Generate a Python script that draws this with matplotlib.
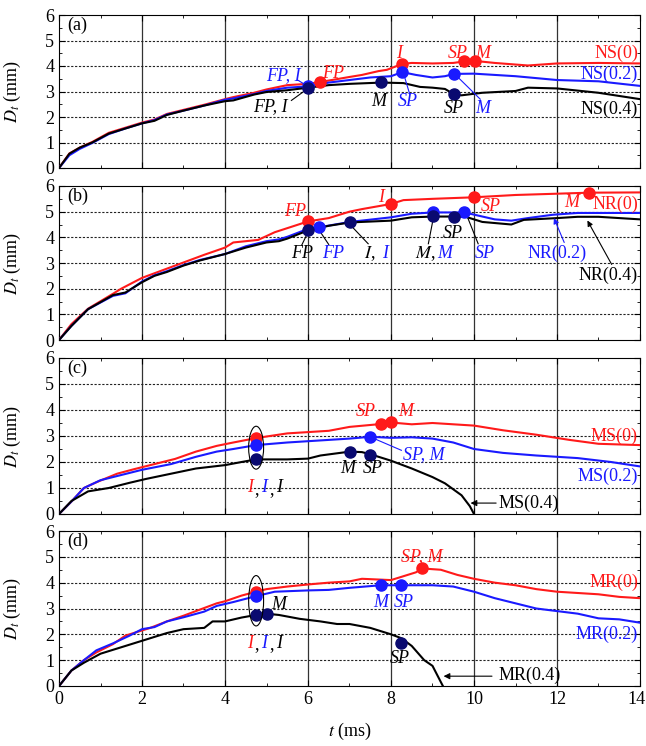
import matplotlib
matplotlib.use("Agg")
import matplotlib.pyplot as plt
from matplotlib.patches import Ellipse
from matplotlib.ticker import MultipleLocator
from matplotlib.transforms import offset_copy

plt.rcParams['font.family'] = ['Liberation Serif', 'DejaVu Serif']
plt.rcParams['mathtext.fontset'] = 'stix'

RED = '#ff1a1a'
BLUE = '#1a1aff'
BLK = '#000000'
NAVY = '#0a0a70'

# ---------------- data ----------------
# Panel (a) NS
ns0_t = [0, 0.25, 0.5, 0.8, 1.2, 1.6, 2.0, 2.3, 2.6, 3.0, 3.5, 4.0, 4.2, 4.7, 5.0, 5.5, 6.0, 6.28, 6.5, 7.0, 7.3, 7.7, 7.9, 8.27, 8.5, 9.0, 9.5, 9.77, 10.02, 10.5, 11.3, 12.0, 13.0, 14.0]
ns0_d = [0, 0.57, 0.8, 1.02, 1.38, 1.58, 1.78, 1.9, 2.12, 2.28, 2.48, 2.7, 2.78, 2.95, 3.08, 3.25, 3.3, 3.37, 3.43, 3.57, 3.65, 3.8, 3.85, 4.08, 4.12, 4.1, 4.12, 4.18, 4.2, 4.12, 4.02, 4.1, 4.12, 4.1]
ns2_t = [0, 0.25, 0.5, 0.8, 1.2, 1.6, 2.0, 2.3, 2.6, 3.0, 3.5, 4.0, 4.2, 4.7, 5.0, 5.5, 6.0, 6.5, 7.0, 7.5, 8.0, 8.27, 8.6, 9.0, 9.3, 9.52, 10.0, 11.0, 12.0, 13.0, 14.0]
ns2_d = [0, 0.5, 0.75, 0.98, 1.33, 1.55, 1.75, 1.88, 2.1, 2.25, 2.45, 2.68, 2.73, 2.9, 3.02, 3.15, 3.2, 3.35, 3.45, 3.55, 3.6, 3.76, 3.65, 3.55, 3.6, 3.69, 3.7, 3.6, 3.45, 3.4, 3.22]
ns4_t = [0, 0.25, 0.5, 0.8, 1.2, 1.6, 2.0, 2.3, 2.6, 3.0, 3.5, 4.0, 4.2, 4.7, 5.0, 5.5, 6.0, 6.5, 7.0, 7.77, 8.3, 8.7, 9.0, 9.3, 9.52, 9.7, 10.2, 11.0, 11.3, 12.0, 13.0, 14.0]
ns4_d = [0, 0.56, 0.8, 1.0, 1.35, 1.55, 1.75, 1.85, 2.08, 2.25, 2.45, 2.62, 2.65, 2.88, 2.98, 3.05, 3.15, 3.25, 3.3, 3.35, 3.33, 3.18, 3.15, 3.1, 2.89, 2.85, 2.95, 3.02, 3.15, 3.12, 2.95, 2.7]

# Panel (b) NR
nr0_t = [0, 0.3, 0.7, 1.3, 1.5, 2.0, 2.5, 3.0, 3.5, 4.0, 4.2, 4.8, 5.2, 6.0, 6.5, 7.0, 7.3, 8.0, 8.3, 9.0, 10.0, 11.0, 12.0, 12.78, 14.0]
nr0_d = [0, 0.62, 1.22, 1.8, 2.0, 2.42, 2.72, 3.02, 3.32, 3.6, 3.8, 3.9, 4.2, 4.62, 4.75, 5.0, 5.1, 5.3, 5.45, 5.5, 5.56, 5.65, 5.7, 5.74, 5.75]
nr2_t = [0, 0.3, 0.7, 1.3, 1.6, 2.0, 2.3, 2.6, 3.0, 3.4, 4.0, 4.5, 5.0, 5.3, 5.5, 6.0, 6.26, 7.01, 8.0, 8.5, 9.02, 9.77, 10.5, 10.9, 11.3, 11.9, 12.5, 14.0]
nr2_d = [0, 0.55, 1.2, 1.72, 1.82, 2.28, 2.52, 2.68, 2.92, 3.12, 3.35, 3.65, 3.85, 3.92, 4.02, 4.33, 4.39, 4.6, 4.78, 4.92, 4.97, 4.97, 4.7, 4.65, 4.75, 4.88, 4.95, 4.95]
nr4_t = [0, 0.3, 0.7, 1.3, 1.6, 2.0, 2.3, 2.6, 3.0, 3.4, 4.0, 4.5, 5.0, 5.3, 5.5, 6.0, 6.5, 7.01, 8.0, 8.5, 9.02, 9.52, 9.8, 10.2, 10.9, 11.2, 12.0, 12.5, 13.0, 14.0]
nr4_d = [0, 0.55, 1.2, 1.75, 1.85, 2.25, 2.5, 2.65, 2.9, 3.1, 3.35, 3.6, 3.8, 3.85, 3.95, 4.27, 4.45, 4.58, 4.65, 4.78, 4.81, 4.81, 4.8, 4.6, 4.5, 4.68, 4.75, 4.8, 4.8, 4.7]

# Panel (c) MS
ms0_t = [0, 0.3, 0.6, 0.9, 1.4, 1.8, 2.3, 2.8, 3.3, 3.8, 4.2, 4.75, 5.5, 6.0, 6.5, 7.0, 7.75, 8.0, 8.5, 9.0, 9.5, 10.0, 10.7, 11.5, 12.3, 13.0, 14.0]
ms0_d = [0, 0.48, 1.0, 1.22, 1.55, 1.72, 1.92, 2.12, 2.4, 2.62, 2.75, 2.92, 3.1, 3.15, 3.2, 3.35, 3.46, 3.52, 3.45, 3.5, 3.45, 3.4, 3.22, 3.05, 2.85, 2.7, 2.65]
ms2_t = [0, 0.3, 0.6, 1.0, 1.5, 2.0, 2.7, 3.3, 3.8, 4.2, 4.75, 5.5, 6.0, 6.5, 7.0, 7.5, 8.0, 8.5, 9.0, 9.5, 10.0, 10.7, 11.5, 12.5, 13.3, 14.0]
ms2_d = [0, 0.48, 1.0, 1.3, 1.5, 1.7, 1.92, 2.2, 2.4, 2.5, 2.65, 2.75, 2.8, 2.85, 2.9, 2.97, 2.93, 2.95, 2.9, 2.75, 2.5, 2.35, 2.25, 2.15, 2.0, 1.83]
ms4_t = [0, 0.3, 0.7, 1.2, 1.7, 2.1, 2.7, 3.3, 4.0, 4.4, 4.75, 5.5, 6.0, 6.3, 7.01, 7.3, 7.5, 8.0, 8.5, 9.0, 9.3, 9.7, 9.9, 10.0]
ms4_d = [0, 0.5, 0.87, 1.0, 1.2, 1.35, 1.55, 1.75, 1.88, 2.0, 2.1, 2.1, 2.13, 2.25, 2.4, 2.38, 2.3, 2.05, 1.75, 1.42, 1.18, 0.72, 0.3, 0]

# Panel (d) MR
mr0_t = [0, 0.3, 0.6, 0.9, 1.3, 1.6, 1.9, 2.2, 2.6, 3.0, 3.5, 3.8, 4.0, 4.4, 4.75, 5.0, 5.5, 6.0, 6.5, 7.0, 7.3, 8.0, 8.4, 8.6, 8.75, 9.2, 9.6, 10.0, 10.5, 11.0, 11.5, 12.0, 13.0, 13.5, 14.0]
mr0_d = [0, 0.6, 1.0, 1.3, 1.62, 1.95, 2.1, 2.25, 2.5, 2.72, 3.02, 3.2, 3.28, 3.5, 3.65, 3.75, 3.85, 3.93, 4.0, 4.05, 4.15, 4.1, 4.3, 4.4, 4.55, 4.5, 4.3, 4.15, 4.0, 3.9, 3.75, 3.65, 3.55, 3.45, 3.4]
mr2_t = [0, 0.3, 0.6, 0.9, 1.3, 1.7, 2.0, 2.3, 2.6, 3.0, 3.5, 3.8, 4.2, 4.75, 5.2, 6.0, 6.5, 7.0, 7.75, 8.25, 9.0, 9.5, 10.0, 10.5, 11.0, 11.5, 12.0, 12.5, 13.0, 13.5, 14.0]
mr2_d = [0, 0.6, 1.0, 1.38, 1.65, 1.95, 2.2, 2.28, 2.5, 2.66, 2.88, 3.1, 3.25, 3.48, 3.65, 3.7, 3.72, 3.8, 3.9, 3.9, 3.9, 3.85, 3.65, 3.4, 3.2, 3.0, 2.9, 2.8, 2.62, 2.58, 2.45]
mr4_t = [0, 0.3, 0.6, 1.0, 1.5, 1.8, 2.2, 2.6, 3.0, 3.5, 3.7, 4.0, 4.4, 4.75, 5.0, 5.3, 5.8, 6.3, 6.7, 7.0, 7.5, 8.0, 8.25, 8.5, 8.8, 9.0, 9.25]
mr4_d = [0, 0.6, 0.9, 1.25, 1.5, 1.65, 1.85, 2.05, 2.2, 2.25, 2.5, 2.5, 2.65, 2.75, 2.8, 2.75, 2.6, 2.5, 2.4, 2.4, 2.25, 2.0, 1.85, 1.55, 1.0, 0.78, 0]

# marker points (t, D)
ns0_pts = [(6.28, 3.37), (8.27, 4.08), (9.77, 4.18), (10.02, 4.2)]
ns2_pts = [(6.0, 3.2), (8.27, 3.76), (9.52, 3.69)]
ns4_pts = [(6.0, 3.15), (7.77, 3.39), (9.52, 2.89)]
nr0_pts = [(6.0, 4.62), (8.0, 5.3), (10.0, 5.56), (12.78, 5.74)]
nr2_pts = [(6.26, 4.39), (9.02, 4.97), (9.77, 4.97)]
nr4_pts = [(6.0, 4.27), (7.01, 4.58), (9.02, 4.83), (9.52, 4.81)]
ms0_pts = [(4.75, 2.93), (7.75, 3.46), (8.0, 3.52)]
ms2_pts = [(4.75, 2.65), (7.5, 2.97)]
ms4_pts = [(4.75, 2.1), (7.01, 2.4), (7.5, 2.27)]
mr0_pts = [(4.75, 3.65), (8.75, 4.55)]
mr2_pts = [(4.75, 3.48), (7.75, 3.9), (8.25, 3.9)]
mr4_pts = [(4.75, 2.75), (5.0, 2.78), (8.25, 1.68)]

fig = plt.figure(figsize=(6.46, 7.46), dpi=100)
L, R = 59/646, 640/646
panels = [(15, 168), (186, 340), (358, 514), (531, 686)]
axes = []
for top, bot in panels:
    ax = fig.add_axes([L, 1 - bot/746, R - L, (bot - top)/746])
    axes.append(ax)

FS = 13

def style(ax, label, xlabels):
    ax.set_xlim(0, 14)
    ax.set_ylim(0, 6)
    ax.xaxis.set_major_locator(MultipleLocator(2))
    ax.xaxis.set_minor_locator(MultipleLocator(1))
    ax.yaxis.set_major_locator(MultipleLocator(1))
    ax.yaxis.set_minor_locator(MultipleLocator(0.5))
    ax.tick_params(which='both', direction='in', top=True, right=True, labelsize=FS)
    ax.tick_params(which='major', length=4)
    ax.tick_params(which='minor', length=2.5)
    for x in range(2, 14, 2):
        ax.axvline(x, color='#333333', lw=0.9, zorder=1)
    for y in range(1, 6):
        ax.axhline(y, color='#222222', lw=0.8, ls=(0, (2, 1.5)), zorder=1)
    if not xlabels:
        ax.set_xticklabels([])
    ax.set_ylabel(r'$D_t$ (mm)', fontsize=FS)
    ax.yaxis.set_label_coords(-0.062, 0.5)
    ax.text(0.2, 5.6, label, fontsize=FS, va='center', ha='left')

def curves(ax, data):
    for t, d, c in data:
        ax.plot(t, d, color=c, lw=1.5, zorder=3)

def marks(ax, pts, c):
    ax.plot([p[0] for p in pts], [p[1] for p in pts], 'o', color=c, ms=8, mec=c, zorder=5, ls='none')

def txt(ax, x, y, s, c, ha='center', it=True):
    ax.text(x, y, s, color=c, fontsize=FS, ha=ha, va='center', style='italic' if it else 'normal', zorder=6)

def lead(ax, p0, p1, c, lw=0.8):
    ax.plot([p0[0], p1[0]], [p0[1], p1[1]], color=c, lw=lw, zorder=4)

def iii(ax, y):
    txt(ax, 4.6, y, 'I', RED); txt(ax, 4.77, y - 0.05, ',', BLK, it=False)
    txt(ax, 4.95, y, 'I', BLUE); txt(ax, 5.12, y - 0.05, ',', BLK, it=False)
    txt(ax, 5.3, y, 'I', BLK)

# ---- (a)
ax = axes[0]
style(ax, '(a)', False)
curves(ax, [(ns0_t, ns0_d, RED), (ns2_t, ns2_d, BLUE), (ns4_t, ns4_d, BLK)])
marks(ax, ns0_pts, RED); marks(ax, ns2_pts, BLUE); marks(ax, ns4_pts, NAVY)
txt(ax, 5.4, 3.62, 'FP, I', BLUE); lead(ax, (5.75, 3.45), (6.0, 3.2), BLUE)
txt(ax, 6.6, 3.72, 'FP', RED)
txt(ax, 5.1, 2.4, 'FP, I', BLK); lead(ax, (5.6, 2.65), (6.0, 3.12), BLK)
txt(ax, 7.7, 2.62, 'M', BLK)
txt(ax, 8.2, 4.5, 'I', RED)
txt(ax, 8.4, 2.6, 'SP', BLUE); lead(ax, (8.3, 3.72), (8.45, 2.9), BLUE)
txt(ax, 9.6, 4.5, 'SP', RED); txt(ax, 10.2, 4.5, 'M', RED)
txt(ax, 9.52, 2.35, 'SP', BLK)
txt(ax, 10.2, 2.35, 'M', BLUE); lead(ax, (9.55, 3.66), (10.15, 2.7), BLUE)
txt(ax, 13.95, 4.5, 'NS(0)', RED, ha='right', it=False)
txt(ax, 13.95, 3.68, 'NS(0.2)', BLUE, ha='right', it=False)
txt(ax, 13.95, 2.3, 'NS(0.4)', BLK, ha='right', it=False)

# ---- (b)
ax = axes[1]
style(ax, '(b)', False)
curves(ax, [(nr0_t, nr0_d, RED), (nr2_t, nr2_d, BLUE), (nr4_t, nr4_d, BLK)])
marks(ax, nr0_pts, RED); marks(ax, nr2_pts, BLUE); marks(ax, nr4_pts, NAVY)
txt(ax, 5.7, 5.0, 'FP', RED)
txt(ax, 7.75, 5.55, 'I', RED)
txt(ax, 10.4, 5.2, 'SP', RED)
txt(ax, 12.35, 5.35, 'M', RED)
txt(ax, 13.95, 5.3, 'NR(0)', RED, ha='right', it=False)
txt(ax, 5.85, 3.38, 'FP', BLK); lead(ax, (5.85, 3.7), (6.0, 4.2), BLK)
txt(ax, 6.6, 3.38, 'FP', BLUE); lead(ax, (6.5, 3.72), (6.26, 4.3), BLK)
ax.text(7.5, 3.38, '$I$, ', color=BLK, fontsize=FS, ha='center', va='center', zorder=6)
txt(ax, 7.85, 3.38, 'I', BLUE); lead(ax, (7.45, 3.75), (7.01, 4.5), BLK)
ax.text(8.85, 3.38, '$M$, ', color=BLK, fontsize=FS, ha='center', va='center', zorder=6)
txt(ax, 9.3, 3.38, 'M', BLUE); lead(ax, (8.9, 3.75), (9.02, 4.75), BLK)
txt(ax, 9.5, 4.15, 'SP', BLK)
txt(ax, 10.25, 3.38, 'SP', BLUE); lead(ax, (10.1, 3.75), (9.82, 4.88), BLK)
txt(ax, 12.0, 3.38, 'NR(0.2)', BLUE, it=False)
ax.annotate('', xy=(11.9, 4.85), xytext=(12.2, 3.7),
            arrowprops=dict(arrowstyle='-|>', color=BLUE, lw=0.8, mutation_scale=8), zorder=6)
txt(ax, 13.95, 2.5, 'NR(0.4)', BLK, ha='right', it=False)
ax.annotate('', xy=(12.7, 4.75), xytext=(13.35, 2.85),
            arrowprops=dict(arrowstyle='-|>', color=BLK, lw=0.8, mutation_scale=8), zorder=6)

# ---- (c)
ax = axes[2]
style(ax, '(c)', False)
curves(ax, [(ms0_t, ms0_d, RED), (ms2_t, ms2_d, BLUE), (ms4_t, ms4_d, BLK)])
marks(ax, ms0_pts, RED); marks(ax, ms2_pts, BLUE); marks(ax, ms4_pts, NAVY)
ax.add_patch(Ellipse((4.75, 2.55), 0.36, 1.65, fill=False, ec=BLK, lw=0.8, zorder=6))
iii(ax, 1.0)
txt(ax, 7.4, 3.95, 'SP', RED); txt(ax, 8.35, 3.95, 'M', RED)
txt(ax, 8.8, 2.3, 'SP, M', BLUE); lead(ax, (7.55, 2.93), (8.25, 2.45), BLUE)
txt(ax, 6.95, 1.75, 'M', BLK); txt(ax, 7.55, 1.75, 'SP', BLK)
txt(ax, 13.95, 3.0, 'MS(0)', RED, ha='right', it=False)
txt(ax, 13.95, 1.45, 'MS(0.2)', BLUE, ha='right', it=False)
txt(ax, 10.6, 0.42, 'MS(0.4)', BLK, ha='left', it=False)
ax.annotate('', xy=(9.85, 0.42), xytext=(10.6, 0.42),
            arrowprops=dict(arrowstyle='-|>', color=BLK, lw=0.8, mutation_scale=9), zorder=6)

# ---- (d)
ax = axes[3]
style(ax, '(d)', True)
curves(ax, [(mr0_t, mr0_d, RED), (mr2_t, mr2_d, BLUE), (mr4_t, mr4_d, BLK)])
marks(ax, mr0_pts, RED); marks(ax, mr2_pts, BLUE); marks(ax, mr4_pts, NAVY)
ax.add_patch(Ellipse((4.75, 3.3), 0.36, 1.95, fill=False, ec=BLK, lw=0.8, zorder=6))
iii(ax, 1.65)
txt(ax, 5.3, 3.15, 'M', BLK)
txt(ax, 8.75, 5.0, 'SP, M', RED)
txt(ax, 7.75, 3.25, 'M', BLUE); txt(ax, 8.3, 3.25, 'SP', BLUE)
txt(ax, 8.2, 1.05, 'SP', BLK)
txt(ax, 13.95, 4.0, 'MR(0)', RED, ha='right', it=False)
txt(ax, 13.95, 2.0, 'MR(0.2)', BLUE, ha='right', it=False)
txt(ax, 10.6, 0.42, 'MR(0.4)', BLK, ha='left', it=False)
ax.annotate('', xy=(9.2, 0.38), xytext=(10.5, 0.38),
            arrowprops=dict(arrowstyle='-|>', color=BLK, lw=0.8, mutation_scale=9), zorder=6)
ax.set_xlabel(r'$t$ (ms)', fontsize=FS)
ax.xaxis.set_label_coords(0.5, -0.225)

fig.canvas.draw()
last = [tk for tk in ax.xaxis.get_major_ticks() if abs(tk.get_loc() - 14) < 1e-6]
for tk in last:
    tk.label1.set_transform(offset_copy(tk.label1.get_transform(), fig=fig, x=-4, y=0, units='dots'))

fig.savefig('out.png', dpi=100)
